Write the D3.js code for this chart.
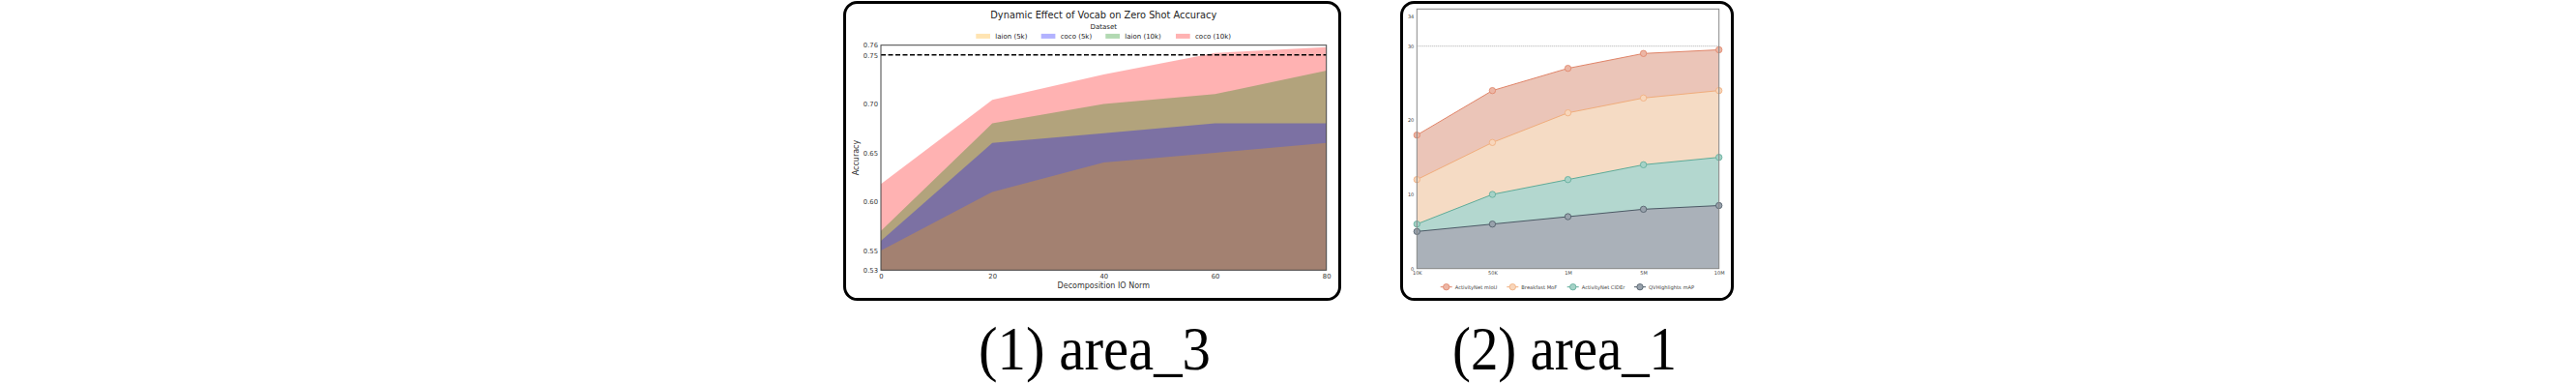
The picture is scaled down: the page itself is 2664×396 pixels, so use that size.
<!DOCTYPE html>
<html lang="en">
  <head>
    <meta charset="UTF-8" />
    <title>area charts</title>
    <script src="https://d3js.org/d3.v7.min.js"></script>
    <style>
      body {
        margin: 0;
        background-color: #fff;
      }
      svg {
        display: block;
      }
      .sans {
        font-family: "DejaVu Sans", sans-serif;
      }
      .caption {
        font-family: "Liberation Serif", "Times New Roman", serif;
        font-size: 64px;
        fill: #000;
        text-anchor: middle;
      }
    </style>
  </head>
  <body>
    <svg id="chart" width="2664" height="396"></svg>

    <script>
      // --- panel 1: vocab / zero shot accuracy
      const vocabX = [0, 20, 40, 60, 80];
      const vocabNames = ["laion (5k)", "coco (5k)", "laion (10k)", "coco (10k)"];
      const laion5k = [0.55, 0.61, 0.64, 0.65, 0.66];
      const coco5k = [0.56, 0.66, 0.67, 0.68, 0.68];
      const laion10k = [0.57, 0.68, 0.7, 0.71, 0.734];
      const coco10k = [0.618, 0.704, 0.73, 0.752, 0.758];
      const vocabYTicks = [0.53, 0.55, 0.6, 0.65, 0.7, 0.75, 0.76];
      const vocabBaseline = 0.75;

      // --- panel 2: scaling
      const scaleLabels = ["10K", "50K", "1M", "5M", "10M"];
      const scaleNames = ["ActivityNet mIoU", "Breakfast MoF", "ActivityNet CIDEr", "QVHighlights mAP"];
      const anetMiou = [18, 24, 27, 29, 29.5];
      const breakfastMof = [12, 17, 21, 23, 24];
      const anetCider = [6, 10, 12, 14, 15];
      const qvhMap = [5, 6, 7, 8, 8.5];
      const scaleYTicks = [0, 10, 20, 30, 34];
      const scaleRef = 30;

      const svg = d3.select("#chart");
      svg.append("rect").attr("width", 2664).attr("height", 396).attr("fill", "#fff");

      // panel frames
      const frames = [
        { x: 873.5, w: 512 },
        { x: 1449.5, w: 342 },
      ];
      svg
        .selectAll(".frame")
        .data(frames)
        .enter()
        .append("rect")
        .attr("class", "frame")
        .attr("x", (d) => d.x)
        .attr("y", 2.5)
        .attr("width", (d) => d.w)
        .attr("height", 307)
        .attr("rx", 13)
        .attr("fill", "none")
        .attr("stroke", "#000")
        .attr("stroke-width", 3);

      // ================= panel 1 =================
      {
        const g = svg.append("g").attr("class", "sans");
        const x = d3.scaleLinear().domain([0, 80]).range([911, 1371.7]);
        const y = d3.scaleLinear().domain([0.53, 0.76]).range([279.3, 46.7]);

        const series = [
          { name: vocabNames[0], values: laion5k, color: "#ffa500" },
          { name: vocabNames[1], values: coco5k, color: "#0000ff" },
          { name: vocabNames[2], values: laion10k, color: "#008000" },
          { name: vocabNames[3], values: coco10k, color: "#ff0000" },
        ];

        const area = d3
          .area()
          .x((d) => x(d[0]))
          .y0(y(0.53))
          .y1((d) => y(d[1]));

        // drawn last-to-first so the overlaps blend like the original
        series
          .slice()
          .reverse()
          .forEach((s) => {
            g.append("path")
              .attr("d", area(vocabX.map((v, i) => [v, s.values[i]])))
              .attr("fill", s.color)
              .attr("fill-opacity", 0.3);
          });

        g.append("line")
          .attr("x1", x(0))
          .attr("x2", x(80))
          .attr("y1", y(vocabBaseline))
          .attr("y2", y(vocabBaseline))
          .attr("stroke", "#000")
          .attr("stroke-width", 1.5)
          .attr("stroke-dasharray", "5,2.5");

        g.append("rect")
          .attr("x", x(0))
          .attr("y", y(0.76))
          .attr("width", x(80) - x(0))
          .attr("height", y(0.53) - y(0.76))
          .attr("fill", "none")
          .attr("stroke", "#444")
          .attr("stroke-width", 1);

        const yAxis = g
          .append("g")
          .attr("transform", `translate(${x(0)},0)`)
          .call(
            d3.axisLeft(y).tickValues(vocabYTicks).tickSize(0).tickPadding(3).tickFormat(d3.format(".2f"))
          );
        const xAxis = g
          .append("g")
          .attr("transform", `translate(0,${y(0.53)})`)
          .call(d3.axisBottom(x).tickValues(vocabX).tickSize(0).tickPadding(4));
        [yAxis, xAxis].forEach((a) => {
          a.select(".domain").remove();
          a.selectAll("text").attr("font-size", 6.8).attr("fill", "#333").attr("font-family", "DejaVu Sans");
        });

        g.append("text")
          .attr("x", 1141.3)
          .attr("y", 298)
          .attr("text-anchor", "middle")
          .attr("font-size", 8)
          .attr("fill", "#333")
          .text("Decomposition IO Norm");

        g.append("text")
          .attr("transform", "translate(888,163) rotate(-90)")
          .attr("text-anchor", "middle")
          .attr("font-size", 8)
          .attr("fill", "#333")
          .text("Accuracy");

        g.append("text")
          .attr("x", 1141.3)
          .attr("y", 18.5)
          .attr("text-anchor", "middle")
          .attr("font-size", 9.8)
          .attr("fill", "#222")
          .text("Dynamic Effect of Vocab on Zero Shot Accuracy");

        g.append("text")
          .attr("x", 1141.3)
          .attr("y", 29.8)
          .attr("text-anchor", "middle")
          .attr("font-size", 7)
          .attr("fill", "#222")
          .text("Dataset");

        const legendX = [1009.3, 1076.7, 1143.3, 1216];
        const leg = g
          .selectAll(".leg1")
          .data(series)
          .enter()
          .append("g")
          .attr("class", "leg1")
          .attr("transform", (d, i) => `translate(${legendX[i]},37.4)`);
        leg.append("rect")
          .attr("y", -2.5)
          .attr("width", 14.7)
          .attr("height", 5)
          .attr("fill", (d) => d.color)
          .attr("fill-opacity", 0.3);
        leg.append("text")
          .attr("x", 20)
          .attr("dy", "0.35em")
          .attr("font-size", 7)
          .attr("fill", "#222")
          .text((d) => d.name);
      }

      // ================= panel 2 =================
      {
        const g = svg.append("g").attr("class", "sans");
        const x = d3.scalePoint().domain(scaleLabels).range([1465.3, 1777.7]);
        const y = d3.scaleLinear().domain([0, 35]).range([277.7, 9.3]);

        const series = [
          { name: scaleNames[0], values: anetMiou, fill: "#ebc5b8", line: "#e08468", dot: "#ecb6a5" },
          { name: scaleNames[1], values: breakfastMof, fill: "#f5dbc4", line: "#f0ad7c", dot: "#f8d6bb" },
          { name: scaleNames[2], values: anetCider, fill: "#b3d7cf", line: "#5eab98", dot: "#a5d2c7" },
          { name: scaleNames[3], values: qvhMap, fill: "#aab1b9", line: "#4c5a66", dot: "#98a2ac" },
        ];

        const area = d3
          .area()
          .x((d) => x(d[0]))
          .y0(y(0))
          .y1((d) => y(d[1]));
        const line = d3
          .line()
          .x((d) => x(d[0]))
          .y((d) => y(d[1]));

        series.forEach((s) => {
          g.append("path")
            .attr("d", area(scaleLabels.map((l, i) => [l, s.values[i]])))
            .attr("fill", s.fill);
        });

        g.append("line")
          .attr("x1", x("10K"))
          .attr("x2", x("10M"))
          .attr("y1", y(scaleRef))
          .attr("y2", y(scaleRef))
          .attr("stroke", "#bbb")
          .attr("stroke-width", 1.2)
          .attr("stroke-dasharray", "1,1");

        series.forEach((s) => {
          const pts = scaleLabels.map((l, i) => [l, s.values[i]]);
          g.append("path")
            .attr("d", line(pts))
            .attr("fill", "none")
            .attr("stroke", s.line)
            .attr("stroke-width", 1);
          g.selectAll(null)
            .data(pts)
            .enter()
            .append("circle")
            .attr("cx", (d) => x(d[0]))
            .attr("cy", (d) => y(d[1]))
            .attr("r", 3.2)
            .attr("fill", s.dot)
            .attr("stroke", s.line)
            .attr("stroke-width", 0.8);
        });

        g.append("rect")
          .attr("x", x("10K"))
          .attr("y", y(35))
          .attr("width", x("10M") - x("10K"))
          .attr("height", y(0) - y(35))
          .attr("fill", "none")
          .attr("stroke", "#888")
          .attr("stroke-width", 1);

        const yAxis = g
          .append("g")
          .attr("transform", `translate(${x("10K")},0)`)
          .call(d3.axisLeft(y).tickValues(scaleYTicks).tickSize(0).tickPadding(3));
        const xAxis = g
          .append("g")
          .attr("transform", `translate(0,${y(0)})`)
          .call(d3.axisBottom(x).tickSize(0).tickPadding(2.8));
        [yAxis, xAxis].forEach((a) => {
          a.select(".domain").remove();
          a.selectAll("text").attr("font-size", 5).attr("fill", "#444").attr("font-family", "DejaVu Sans");
        });

        const legendX = [1495.7, 1564.3, 1626.7, 1696];
        const leg = g
          .selectAll(".leg2")
          .data(series)
          .enter()
          .append("g")
          .attr("class", "leg2")
          .attr("transform", (d, i) => `translate(${legendX[i]},296.7)`);
        leg.append("line")
          .attr("x1", -6)
          .attr("x2", 6)
          .attr("stroke", (d) => d.line)
          .attr("stroke-width", 1);
        leg.append("circle")
          .attr("r", 3.2)
          .attr("fill", (d) => d.dot)
          .attr("stroke", (d) => d.line)
          .attr("stroke-width", 0.8);
        leg.append("text")
          .attr("x", 9)
          .attr("dy", "0.35em")
          .attr("font-size", 5.2)
          .attr("fill", "#444")
          .text((d) => d.name);
      }

      // captions under each panel
      const captions = [
        { text: "(1) area_3", cx: 1132, len: 240 },
        { text: "(2) area_1", cx: 1618, len: 232 },
      ];
      svg
        .selectAll(".caption")
        .data(captions)
        .enter()
        .append("text")
        .attr("class", "caption")
        .attr("x", (d) => d.cx)
        .attr("y", 381.5)
        .attr("textLength", (d) => d.len)
        .attr("lengthAdjust", "spacingAndGlyphs")
        .text((d) => d.text);
    </script>
  </body>
</html>
